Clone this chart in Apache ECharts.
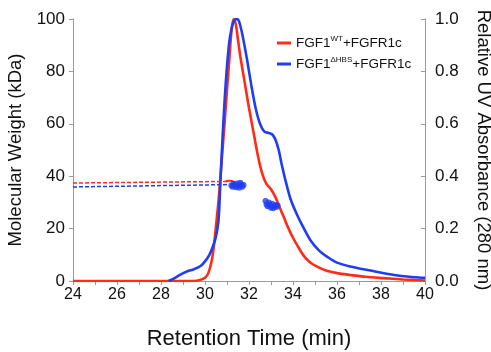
<!DOCTYPE html>
<html>
<head>
<meta charset="utf-8">
<script src="https://cdn.jsdelivr.net/npm/echarts@6/dist/echarts.min.js"></script>
<style>
  html, body { margin: 0; padding: 0; background: #fff; }
  #sec-chart { width: 491px; height: 352px; }
</style>
</head>
<body>
<div id="sec-chart"></div>
<script>
// UV traces: [retention time (min), relative absorbance]
const wtUv = [
  [24, 0], [29.5, 0], [29.8, 0.005], [30.0, 0.012], [30.15, 0.03], [30.3, 0.075], [30.4, 0.13],
  [30.5, 0.21], [30.63, 0.32], [30.75, 0.45], [30.86, 0.57], [31.0, 0.73], [31.1, 0.84],
  [31.2, 0.95], [31.3, 1.0], [31.4, 0.98], [31.5, 0.92], [31.6, 0.86], [31.8, 0.76], [32.0, 0.66],
  [32.2, 0.57], [32.4, 0.48], [32.6, 0.41], [32.8, 0.37], [33.0, 0.35], [33.2, 0.32], [33.4, 0.28],
  [33.6, 0.24], [33.8, 0.2], [34.0, 0.165], [34.2, 0.135], [34.5, 0.095], [34.8, 0.07],
  [35.1, 0.055], [35.5, 0.04], [36.0, 0.03], [36.6, 0.023], [37.3, 0.016], [38.1, 0.011],
  [39.0, 0.006], [40, 0.002]
];
const hbsUv = [
  [28.35, 0], [28.6, 0.01], [28.9, 0.025], [29.2, 0.037], [29.5, 0.045], [29.8, 0.057],
  [30.0, 0.075], [30.2, 0.1], [30.35, 0.13], [30.5, 0.17], [30.6, 0.22], [30.65, 0.28],
  [30.7, 0.38], [30.8, 0.55], [30.9, 0.7], [31.0, 0.82], [31.1, 0.91], [31.2, 0.96], [31.3, 0.99],
  [31.45, 1.0], [31.55, 0.99], [31.7, 0.94], [31.9, 0.85], [32.1, 0.75], [32.3, 0.66],
  [32.5, 0.6], [32.7, 0.57], [32.9, 0.565], [33.05, 0.56], [33.2, 0.54], [33.35, 0.5],
  [33.5, 0.44], [33.7, 0.37], [33.9, 0.31], [34.2, 0.25], [34.5, 0.2], [34.8, 0.155],
  [35.2, 0.115], [35.6, 0.09], [36.0, 0.07], [36.6, 0.055], [37.2, 0.045], [37.8, 0.035],
  [38.6, 0.023], [39.3, 0.016], [40, 0.012]
];

// molecular weight fits (kDa)
const wtMwFit = [[24, 37.4], [31.0, 38.0]];
const hbsMwFit = [[24, 35.9], [31.1, 36.8]];
const wtMw = [[30.95, 38.1], [31.1, 38.3], [31.25, 38.1], [31.35, 37.7]];
const hbsMw = [
  [31.2, 36.5], [31.25, 36.0], [31.3, 37.0], [31.35, 36.5], [31.4, 35.8], [31.45, 37.2],
  [31.5, 36.4], [31.55, 35.6], [31.6, 37.5], [31.65, 36.8], [31.7, 36.0], [31.75, 36.6],
  [32.75, 30.5], [32.8, 29.2], [32.85, 28.5], [32.9, 30.0], [32.95, 29.0], [33.0, 28.0],
  [33.05, 29.5], [33.1, 27.8], [33.15, 28.5], [33.2, 29.0], [33.25, 28.2], [33.3, 28.8]
];

const names = ['FGF1WT+FGFR1c', 'FGF1HBS+FGFR1c'];
const red = '#FF2B17';
const blue = '#1F3DF5';
const axisGray = '#9a9a9a';
const font = 'Arial, "Liberation Sans", sans-serif';

const chart = echarts.init(document.getElementById('sec-chart'));
chart.setOption({
  animation: false,
  textStyle: { fontFamily: font, color: '#111' },
  grid: { left: 73, right: 66, top: 19, bottom: 71, outerBoundsMode: 'none', containLabel: false },
  legend: {
    data: names,
    orient: 'vertical',
    left: 272, top: 30,
    itemGap: 6,
    itemWidth: 14, itemHeight: 3,
    icon: 'rect',
    formatter: function (n) {
      return n === names[0]
        ? '{n|FGF1}{s|WT}{n|+FGFR1c}'
        : '{n|FGF1}{s|\u0394HBS}{n|+FGFR1c}';
    },
    textStyle: {
      fontFamily: font,
      rich: {
        n: { fontSize: 13.5, fontFamily: font, color: '#111', lineHeight: 16 },
        s: { fontSize: 8, fontFamily: font, color: '#111', verticalAlign: 'top', lineHeight: 16, padding: [0, 0, 6, 0] }
      }
    }
  },
  xAxis: {
    type: 'value', min: 24, max: 40, interval: 2,
    name: 'Retention Time (min)', nameLocation: 'middle', nameGap: 47,
    nameTextStyle: { fontSize: 22, color: '#111', fontFamily: font },
    axisLine: { lineStyle: { color: axisGray } },
    axisTick: { length: 4, lineStyle: { color: axisGray } },
    minorTick: { show: true, splitNumber: 2, length: 4, lineStyle: { color: axisGray } },
    axisLabel: { fontSize: 16, color: '#111', margin: 6 },
    splitLine: { show: false }
  },
  yAxis: [
    {
      type: 'value', min: 0, max: 100, interval: 20,
      name: 'Molecular Weight (kDa)', nameLocation: 'middle', nameGap: 44,
      nameTextStyle: { fontSize: 18.5, color: '#111', fontFamily: font },
      axisLine: { show: true, lineStyle: { color: axisGray } },
      axisTick: { show: true, length: 4, lineStyle: { color: axisGray } },
      axisLabel: { fontSize: 17, color: '#111', margin: 8 },
      splitLine: { show: false }
    },
    {
      type: 'value', min: 0, max: 1, interval: 0.2, position: 'right',
      name: 'Relative UV Absorbance (280 nm)', nameLocation: 'middle', nameGap: 49, nameRotate: -90,
      nameTextStyle: { fontSize: 18.5, color: '#111', fontFamily: font },
      axisLine: { show: true, lineStyle: { color: axisGray } },
      axisTick: { show: true, inside: true, length: 4, lineStyle: { color: axisGray } },
      axisLabel: { fontSize: 17, color: '#111', margin: 10, formatter: v => v.toFixed(1) },
      splitLine: { show: false }
    }
  ],
  series: [
    {
      name: names[0], type: 'line', yAxisIndex: 1, data: wtUv, smooth: 0.3,
      showSymbol: false, color: red, lineStyle: { width: 2.6, color: red }, z: 3
    },
    {
      name: names[1], type: 'line', yAxisIndex: 1, data: hbsUv, smooth: 0.3,
      showSymbol: false, color: blue, lineStyle: { width: 2.6, color: blue }, z: 4
    },
    {
      name: 'wtFit', type: 'line', yAxisIndex: 0, data: wtMwFit, showSymbol: false,
      lineStyle: { width: 1.5, color: red, type: [4, 2] }, z: 5
    },
    {
      name: 'hbsFit', type: 'line', yAxisIndex: 0, data: hbsMwFit, showSymbol: false,
      lineStyle: { width: 1.5, color: blue, type: [4, 2] }, z: 5
    },
    {
      name: 'wtMw', type: 'line', yAxisIndex: 0, data: wtMw, showSymbol: false, smooth: true,
      lineStyle: { width: 2, color: red }, z: 5
    },
    {
      name: 'hbsMw', type: 'scatter', yAxisIndex: 0, data: hbsMw, symbolSize: 6,
      itemStyle: { color: blue }, z: 6
    }
  ]
});
</script>
</body>
</html>
